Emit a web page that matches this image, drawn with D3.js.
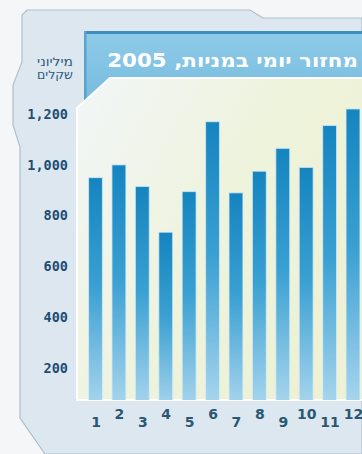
<!DOCTYPE html>
<html>
<head>
<meta charset="utf-8">
<script src="https://cdn.jsdelivr.net/npm/d3@7"></script>
<style>
  body { margin: 0; background: #f4f6f8; }
  svg { display: block; }
</style>
</head>
<body>
<div id="chart"></div>
<script>
// data (million NIS, daily turnover in shares, 2005)
const months = ["1", "2", "3", "4", "5", "6", "7", "8", "9", "10", "11", "12"];
const turnover = [950, 1000, 915, 735, 895, 1170, 890, 975, 1065, 990, 1155, 1220];
const yTicks = [200, 400, 600, 800, 1000, 1200];
const titleText = "מחזור יומי במניות, 2005";
const unitLines = ["מיליוני", "שקלים"];

const W = 362, H = 454;

const svg = d3.select("#chart")
    .append("svg")
    .attr("width", W)
    .attr("height", H);

const defs = svg.append("defs");

// gradients
let g1 = defs.append("linearGradient").attr("id", "barGrad")
    .attr("x1", 0).attr("y1", 0).attr("x2", 0).attr("y2", 1);
g1.append("stop").attr("offset", "0%").attr("stop-color", "#1584bf");
g1.append("stop").attr("offset", "45%").attr("stop-color", "#3aa0d2");
g1.append("stop").attr("offset", "100%").attr("stop-color", "#b4dbf0");

let g2 = defs.append("linearGradient").attr("id", "plotGrad")
    .attr("x1", 0).attr("y1", 0).attr("x2", 1).attr("y2", 0.6);
g2.append("stop").attr("offset", "0%").attr("stop-color", "#f2f6f8");
g2.append("stop").attr("offset", "55%").attr("stop-color", "#eef3dc");
g2.append("stop").attr("offset", "100%").attr("stop-color", "#eef1d2");

let g3 = defs.append("linearGradient").attr("id", "bandGrad")
    .attr("x1", 0).attr("y1", 0).attr("x2", 0).attr("y2", 1);
g3.append("stop").attr("offset", "0%").attr("stop-color", "#8fcbe8");
g3.append("stop").attr("offset", "100%").attr("stop-color", "#74b9de");

// squeeze a text horizontally to a given width, keeping bidi order intact
function fitWidth(sel, tx, ty, w) {
    sel.each(function() {
        let len = this.getComputedTextLength();
        d3.select(this).attr("transform", `translate(${tx}, ${ty}) scale(${w / len}, 1)`);
    });
}

// outer frame
const frame = [[362, 18], [263, 18], [250, 10], [27, 10], [22, 15], [22, 62], [13, 85],
    [13, 125], [20, 147], [20, 418], [45, 454], [362, 454]];
svg.append("path")
    .attr("d", d3.line()(frame) + "Z")
    .attr("fill", "#dde7f0")
    .attr("stroke", "#aebfcd")
    .attr("stroke-width", 1.2);

// title band
svg.append("rect")
    .attr("x", 84).attr("y", 31)
    .attr("width", 290).attr("height", 80)
    .attr("fill", "url(#bandGrad)");
svg.append("rect")
    .attr("x", 84).attr("y", 31)
    .attr("width", 290).attr("height", 3)
    .attr("fill", "#3f8fbe");
svg.append("rect")
    .attr("x", 84).attr("y", 31)
    .attr("width", 2.5).attr("height", 80)
    .attr("fill", "#5aa3cd");

svg.append("text")
    .attr("x", 0).attr("y", 0)
    .attr("direction", "rtl")
    .attr("text-anchor", "start")
    .style("font-family", "'DejaVu Sans', sans-serif")
    .style("font-weight", "bold")
    .style("font-size", "19px")
    .attr("fill", "#ffffff")
    .text(titleText)
    .call(fitWidth, 358, 67, 251);

// plot panel with chamfered corner
const panel = [[77, 108], [110, 78], [372, 78], [372, 400], [77, 400]];
defs.append("clipPath").attr("id", "panelClip")
    .append("path").attr("d", d3.line()(panel) + "Z");
svg.append("path")
    .attr("d", d3.line()(panel) + "Z")
    .attr("fill", "url(#plotGrad)")
    .attr("stroke", "#ffffff")
    .attr("stroke-width", 2);

// scales
let x = d3.scalePoint()
    .domain(months)
    .range([95.5, 353]);

let y = d3.scaleLinear()
    .domain([0, 1200])
    .range([419, 114]);

const barW = 14;

// bars
svg.append("g")
    .attr("clip-path", "url(#panelClip)")
    .selectAll(".bar")
    .data(turnover)
    .join("rect")
    .attr("class", "bar")
    .attr("x", function(d, i) { return x(months[i]) - barW / 2; })
    .attr("y", function(d) { return y(d); })
    .attr("width", barW)
    .attr("height", function(d) { return y(0) - y(d); })
    .attr("fill", "url(#barGrad)")
    .attr("stroke", "#d9f0fb")
    .attr("stroke-opacity", 0.7)
    .attr("stroke-width", 1.2);

// y axis labels
svg.append("g")
    .attr("transform", "translate(68, 0)")
    .call(d3.axisLeft(y).tickValues(yTicks).tickFormat(d3.format(",")).tickSize(0).tickPadding(0))
    .call(g => g.select(".domain").remove())
    .selectAll("text")
    .style("font-family", "'DejaVu Sans Mono', monospace")
    .style("font-weight", "bold")
    .style("font-size", "13.5px")
    .attr("fill", "#1f4d73");

// unit label
svg.append("g").selectAll("text")
    .data(unitLines)
    .join("text")
    .attr("x", 0).attr("y", 0)
    .attr("direction", "rtl")
    .attr("text-anchor", "middle")
    .style("font-family", "'DejaVu Sans', sans-serif")
    .style("font-size", "12px")
    .attr("fill", "#2d5a7f")
    .text(function(d) { return d; })
    .each(function(d, i) {
        d3.select(this).call(fitWidth, 55, 66 + i * 13, 36);
    });

// x axis labels, staggered
svg.append("g")
    .attr("transform", "translate(0, 400)")
    .call(d3.axisBottom(x).tickSize(0))
    .call(g => g.select(".domain").remove())
    .selectAll("text")
    .attr("dy", 0)
    .attr("y", function(d, i) { return i % 2 == 0 ? 27 : 19; })
    .style("font-family", "'DejaVu Sans', sans-serif")
    .style("font-weight", "bold")
    .style("font-size", "14px")
    .attr("fill", "#2a5872");
</script>
</body>
</html>
